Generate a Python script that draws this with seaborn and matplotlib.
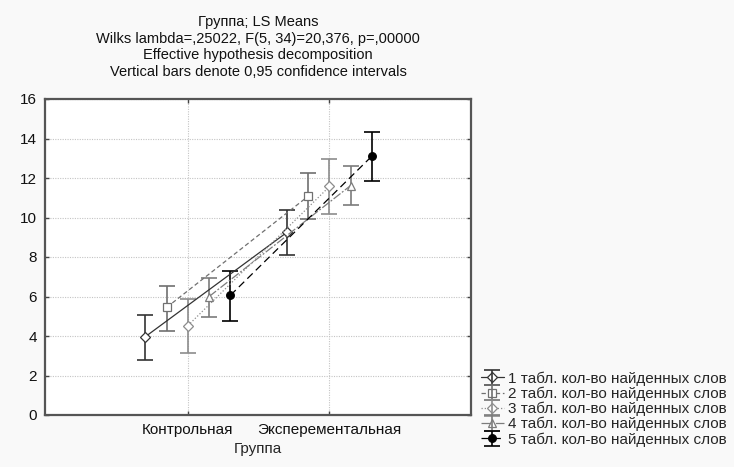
import numpy as np
import pandas as pd
import matplotlib
matplotlib.use("Agg")
import matplotlib.pyplot as plt
from matplotlib.legend_handler import HandlerTuple
import seaborn as sns

# Group means and 0.95 confidence limits per word-count table
groups = ["Контрольная", "Эксперементальная"]
series = [
    "1 табл. кол-во найденных слов",
    "2 табл. кол-во найденных слов",
    "3 табл. кол-во найденных слов",
    "4 табл. кол-во найденных слов",
    "5 табл. кол-во найденных слов",
]
mean_1 = [3.97, 9.25]
low_1 = [2.80, 8.12]
high_1 = [5.08, 10.37]

mean_2 = [5.45, 11.08]
low_2 = [4.23, 9.93]
high_2 = [6.55, 12.23]

mean_3 = [4.53, 11.57]
low_3 = [3.13, 10.17]
high_3 = [5.85, 12.94]

mean_4 = [6.00, 11.62]
low_4 = [4.96, 10.64]
high_4 = [6.92, 12.60]

mean_5 = [6.06, 13.11]
low_5 = [4.77, 11.83]
high_5 = [7.28, 14.35]

y_ticks = [0, 2, 4, 6, 8, 10, 12, 14, 16]

title_lines = [
    "Группа; LS Means",
    "Wilks lambda=,25022, F(5, 34)=20,376, p=,00000",
    "Effective hypothesis decomposition",
    "Vertical bars denote 0,95 confidence intervals",
]

means = [mean_1, mean_2, mean_3, mean_4, mean_5]
lows = [low_1, low_2, low_3, low_4, low_5]
highs = [high_1, high_2, high_3, high_4, high_5]

# Side-by-side offset of each table within a group
dodge = [-0.3, -0.15, 0.0, 0.15, 0.3]

rows = []
for s, name in enumerate(series):
    for g, grp in enumerate(groups):
        rows.append({
            "series": name,
            "group": grp,
            "x": g + dodge[s],
            "mean": means[s][g],
            "low": lows[s][g],
            "high": highs[s][g],
        })
df = pd.DataFrame(rows)

colors = ["#333333", "#707070", "#8c8c8c", "#7c7c7c", "#000000"]
palette = dict(zip(series, colors))
dash_styles = dict(zip(series, ["", (3.5, 2.2), (1, 1.6), (7, 1.5, 1.5, 1.5), (6, 3.5)]))
marker_styles = dict(zip(series, ["D", "s", "D", "^", "o"]))
face_colors = ["white", "white", "white", "white", "black"]
marker_sizes = [5, 5.5, 5, 6, 5.5]

sns.set_theme(style="white")
plt.rcParams["font.family"] = ["Liberation Sans", "DejaVu Sans"]

fig = plt.figure(figsize=(7.34, 4.67), dpi=100, facecolor="#f9f9f9")
ax = fig.add_axes([45 / 734, 52 / 467, 426 / 734, 316 / 467])
ax.set_facecolor("white")

sns.lineplot(
    data=df, x="x", y="mean", hue="series", style="series",
    palette=palette, dashes=dash_styles, markers=marker_styles,
    hue_order=series, style_order=series,
    linewidth=0.9, legend=False, ax=ax, sort=True,
)

series_lines = ax.lines[:len(series)]
for line, fc, col, ms in zip(series_lines, face_colors, colors, marker_sizes):
    line.set_markerfacecolor(fc)
    line.set_markeredgecolor(col)
    line.set_markeredgewidth(0.9)
    line.set_markersize(ms)
    line.set_zorder(4)

err_handles = []
for s, name in enumerate(series):
    sub = df[df["series"] == name]
    yerr = np.vstack([sub["mean"] - sub["low"], sub["high"] - sub["mean"]])
    eb = ax.errorbar(sub["x"], sub["mean"], yerr=yerr, fmt="none",
                     ecolor=colors[s], elinewidth=1.2, capsize=5.5,
                     capthick=1.2, zorder=3)
    err_handles.append(eb)

ax.set_xlim(-1.01, 2.0)
ax.set_ylim(0, 16)
ax.set_xticks(range(len(groups)))
ax.set_xticklabels(groups, fontsize=11)
ax.set_yticks(y_ticks)
ax.set_yticklabels([str(t) for t in y_ticks], fontsize=11)
ax.set_xlabel("Группа", fontsize=11, labelpad=3)
ax.set_ylabel("")

ax.grid(True, linestyle=(0, (1, 1.2)), color="#c4c4c4", linewidth=0.8)
ax.set_axisbelow(True)
ax.tick_params(direction="in", length=3, width=1, color="#444444",
               top=True, right=True, left=True, bottom=True,
               labelcolor="#111111")
ax.tick_params(axis="y", pad=6)
ax.tick_params(axis="x", pad=6)
for side, sp in ax.spines.items():
    sp.set_color("#555555")
    sp.set_linewidth(1.6)

fig.text(258 / 734, 1 - 47 / 467, "\n".join(title_lines), ha="center",
         va="center", multialignment="center", fontsize=10.5,
         linespacing=1.25, color="#111111")

handles = [(ln, eb) for ln, eb in zip(series_lines, err_handles)]
fig.legend(handles, series, loc="center left",
           bbox_to_anchor=(481 / 734, 1 - 409 / 467),
           frameon=False, fontsize=11, handlelength=1.5, handletextpad=0.25,
           labelspacing=0.05, borderpad=0, borderaxespad=0,
           handler_map={tuple: HandlerTuple(ndivide=1)})

fig.savefig("out.png", dpi=100, facecolor=fig.get_facecolor())
